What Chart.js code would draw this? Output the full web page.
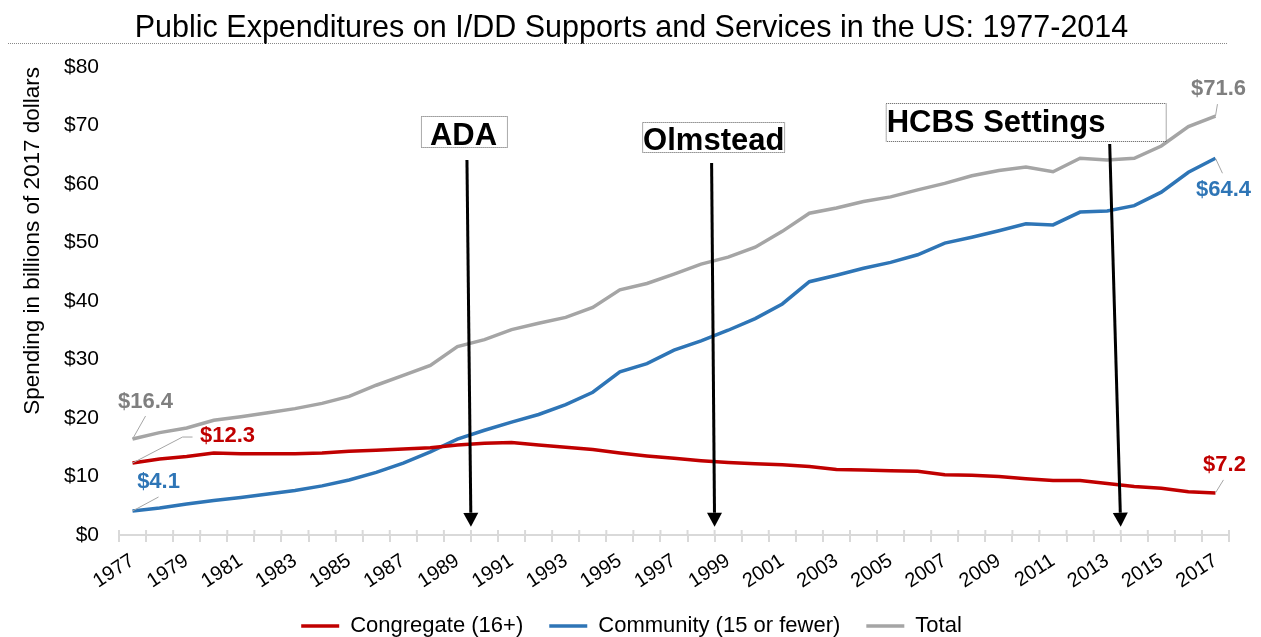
<!DOCTYPE html>
<html>
<head>
  <title>Public Expenditures on I/DD Supports and Services</title>
  <script src="https://cdn.jsdelivr.net/npm/chart.js"></script>
  <style>
    body { margin: 0; background: #fff; overflow: hidden; }
    .wrap { position: relative; width: 1261px; height: 647px; }
  </style>
</head>
<body>
  <div class="wrap"><canvas id="spendChart"></canvas></div>

  <script>
    const years = ['1977', '1978', '1979', '1980', '1981', '1982', '1983', '1984', '1985', '1986',
                   '1987', '1988', '1989', '1990', '1991', '1992', '1993', '1994', '1995', '1996',
                   '1997', '1998', '1999', '2000', '2001', '2002', '2003', '2004', '2005', '2006',
                   '2007', '2008', '2009', '2010', '2011', '2012', '2013', '2014', '2015', '2016', '2017'];

    // billions of 2017 dollars
    const congregate = [12.3, 13.0, 13.4, 14.0, 13.9, 13.9, 13.9, 14.0, 14.3, 14.5,
                        14.7, 14.9, 15.4, 15.7, 15.8, 15.4, 15.0, 14.6, 14.0, 13.5,
                        13.1, 12.7, 12.4, 12.2, 12.0, 11.7, 11.2, 11.1, 11.0, 10.9,
                        10.3, 10.2, 10.0, 9.6, 9.3, 9.3, 8.8, 8.3, 8.0, 7.4, 7.2];
    const community = [4.1, 4.6, 5.3, 5.9, 6.4, 7.0, 7.6, 8.4, 9.4, 10.7,
                       12.3, 14.2, 16.4, 17.9, 19.3, 20.6, 22.3, 24.4, 27.9, 29.3,
                       31.6, 33.2, 35.0, 37.0, 39.5, 43.3, 44.4, 45.6, 46.6, 47.9,
                       49.9, 50.9, 52.0, 53.2, 53.0, 55.2, 55.4, 56.3, 58.6, 62.0, 64.4];
    const total = [16.4, 17.5, 18.3, 19.6, 20.2, 20.9, 21.6, 22.5, 23.7, 25.6,
                   27.3, 29.0, 32.2, 33.4, 35.1, 36.2, 37.2, 38.9, 41.9, 43.0,
                   44.6, 46.3, 47.5, 49.2, 51.9, 55.0, 55.9, 57.0, 57.8, 59.0,
                   60.1, 61.4, 62.3, 62.9, 62.1, 64.4, 64.1, 64.4, 66.5, 69.8, 71.6];

    const seriesNames = ['Congregate (16+)', 'Community (15 or fewer)', 'Total'];
    const yTicks = [0, 10, 20, 30, 40, 50, 60, 70, 80];

    const eventNames = ['ADA', 'Olmstead', 'HCBS Settings'];
    const eventYears = ['1990', '1999', '2014'];

    const lineColors = ['#c00000', '#2e75b6', '#a5a5a5'];
    const labelColors = ['#c00000', '#2e75b6', '#7f7f7f'];
    const fontFamily = "'Liberation Sans', Arial, sans-serif";

    // where the end-value callouts sit, relative to their point
    const calloutStyle = [
      { ds: 2, i: 0,  tx: 13, ty: -37, path: [[0, 0], [13, -23]] },
      { ds: 0, i: 0,  tx: 95, ty: -27, path: [[0, 0], [50, -26], [60, -26]] },
      { ds: 1, i: 0,  tx: 26, ty: -29, path: [[0, 0], [26, -14]] },
      { ds: 2, i: 40, tx: 3,  ty: -27, path: [[0, 0], [2, -12]] },
      { ds: 1, i: 40, tx: 8,  ty: 32,  path: [[0, 0], [7, 15]] },
      { ds: 0, i: 40, tx: 9,  ty: -28, path: [[0, 0], [8, -13]] }
    ];

    // box / arrow placement for the policy markers (offsets from the arrow tip)
    const eventStyle = [
      { left: -50,   top: 116, w: 86,  h: 31, base: 145, pad: 9, topDx: -4,  topY: 160 },
      { left: -72.5, top: 122, w: 142, h: 30, base: 150, pad: 1, topDx: -3,  topY: 163 },
      { left: -235,  top: 103, w: 280, h: 38, base: 132, pad: 1, topDx: -11, topY: 144 }
    ];

    const extrasPlugin = {
      id: 'extras',
      afterDraw(chart) {
        const ctx = chart.ctx;
        const xs = chart.scales.x;
        const ys = chart.scales.y;
        const half = (xs.getPixelForValue(1) - xs.getPixelForValue(0)) / 2;

        ctx.save();

        // dotted rule under the title
        ctx.strokeStyle = '#888';
        ctx.lineWidth = 1;
        ctx.setLineDash([1, 1]);
        ctx.beginPath();
        ctx.moveTo(8, 43.5);
        ctx.lineTo(1227, 43.5);
        ctx.stroke();
        ctx.setLineDash([]);

        // tick marks also poke above the axis
        ctx.strokeStyle = '#d9d9d9';
        ctx.lineWidth = 2;
        for (let i = 0; i <= years.length; i++) {
          const px = xs.getPixelForValue(0) - half + i * 2 * half;
          ctx.beginPath();
          ctx.moveTo(px, ys.bottom - 5);
          ctx.lineTo(px, ys.bottom);
          ctx.stroke();
        }

        // end-value callouts
        ctx.font = 'bold 22px ' + fontFamily;
        ctx.textAlign = 'center';
        ctx.textBaseline = 'middle';
        calloutStyle.forEach(c => {
          const pt = chart.getDatasetMeta(c.ds).data[c.i];
          const value = chart.data.datasets[c.ds].data[c.i];
          ctx.strokeStyle = '#a5a5a5';
          ctx.lineWidth = 1;
          ctx.beginPath();
          c.path.forEach((p, k) => {
            if (k === 0) ctx.moveTo(pt.x + p[0], pt.y + p[1]);
            else ctx.lineTo(pt.x + p[0], pt.y + p[1]);
          });
          ctx.stroke();
          ctx.fillStyle = labelColors[c.ds];
          ctx.fillText('$' + value.toFixed(1), pt.x + c.tx, pt.y + c.ty);
        });

        // policy markers
        ctx.font = 'bold 31px ' + fontFamily;
        ctx.textAlign = 'left';
        ctx.textBaseline = 'alphabetic';
        eventNames.forEach((name, k) => {
          const s = eventStyle[k];
          const idx = years.indexOf(eventYears[k]);
          const tipX = xs.getPixelForValue(idx) - half;
          const tipY = ys.getPixelForValue(1.4);
          const bx = tipX + s.left;

          ctx.fillStyle = '#fff';
          ctx.fillRect(bx, s.top, s.w, s.h);
          ctx.strokeStyle = '#555';
          ctx.lineWidth = 1;
          ctx.setLineDash([1, 1]);
          ctx.strokeRect(bx + 0.5, s.top + 0.5, s.w, s.h);
          ctx.setLineDash([]);
          ctx.fillStyle = '#000';
          ctx.fillText(name, bx + s.pad, s.base);

          const topX = tipX + s.topDx;
          const ang = Math.atan2(tipY - s.topY, tipX - topX);
          const headLen = 14, headHalf = 7.5;
          const baseX = tipX - headLen * Math.cos(ang);
          const baseY = tipY - headLen * Math.sin(ang);
          ctx.strokeStyle = '#000';
          ctx.lineWidth = 3;
          ctx.beginPath();
          ctx.moveTo(topX, s.topY);
          ctx.lineTo(baseX, baseY);
          ctx.stroke();
          ctx.fillStyle = '#000';
          ctx.beginPath();
          ctx.moveTo(tipX, tipY);
          ctx.lineTo(baseX + headHalf * Math.sin(ang), baseY - headHalf * Math.cos(ang));
          ctx.lineTo(baseX - headHalf * Math.sin(ang), baseY + headHalf * Math.cos(ang));
          ctx.closePath();
          ctx.fill();
        });

        ctx.restore();
      }
    };

    function makeSet(label, data, color) {
      return {
        label: label,
        data: data,
        borderColor: color,
        backgroundColor: color,
        borderWidth: 3.5,
        pointRadius: 0,
        pointHoverRadius: 0,
        tension: 0,
        fill: false
      };
    }

    new Chart(document.getElementById('spendChart').getContext('2d'), {
      type: 'line',
      data: {
        labels: years,
        datasets: [
          makeSet(seriesNames[0], congregate, lineColors[0]),
          makeSet(seriesNames[1], community, lineColors[1]),
          makeSet(seriesNames[2], total, lineColors[2])
        ]
      },
      options: {
        responsive: true,
        maintainAspectRatio: false,
        animation: false,
        // left/right kept nearly equal so title and legend centre on the page
        layout: { padding: { left: 34, right: 32, top: 0, bottom: 0 } },
        plugins: {
          title: {
            display: true,
            text: 'Public Expenditures on I/DD Supports and Services in the US: 1977-2014',
            color: '#000',
            font: { family: fontFamily, size: 30.5, weight: 'normal' },
            padding: { top: 10, bottom: 20.4 }
          },
          legend: {
            position: 'bottom',
            labels: {
              usePointStyle: true,
              pointStyle: 'line',
              pointStyleWidth: 38,
              padding: 26,
              color: '#000',
              font: { family: fontFamily, size: 22 }
            }
          },
          tooltip: { enabled: false }
        },
        scales: {
          x: {
            offset: true,
            afterFit: (scale) => { scale.height = 54; },
            grid: {
              offset: true,
              drawOnChartArea: false,
              drawTicks: true,
              tickLength: 7,
              color: '#d9d9d9',
              lineWidth: 2
            },
            border: { display: true, color: '#d9d9d9', width: 2 },
            ticks: {
              autoSkip: false,
              minRotation: 33,
              maxRotation: 33,
              padding: 7,
              color: '#000',
              font: { family: fontFamily, size: 20 },
              callback: function (value, index) {
                return index % 2 === 0 ? years[index] : '';
              }
            }
          },
          y: {
            min: yTicks[0],
            max: yTicks[yTicks.length - 1],
            afterFit: (scale) => { scale.width = 85; },
            afterBuildTicks: (scale) => { scale.ticks = yTicks.map(v => ({ value: v })); },
            grid: { display: false, drawTicks: false },
            border: { display: false },
            ticks: {
              padding: 20,
              color: '#000',
              font: { family: fontFamily, size: 21 },
              callback: (v) => '$' + v
            },
            title: {
              display: true,
              text: 'Spending in billions of 2017 dollars',
              align: 'end',
              color: '#000',
              font: { family: fontFamily, size: 22.5 },
              padding: { top: -14.5, bottom: 0 }
            }
          }
        }
      },
      plugins: [extrasPlugin]
    });
  </script>
</body>
</html>
